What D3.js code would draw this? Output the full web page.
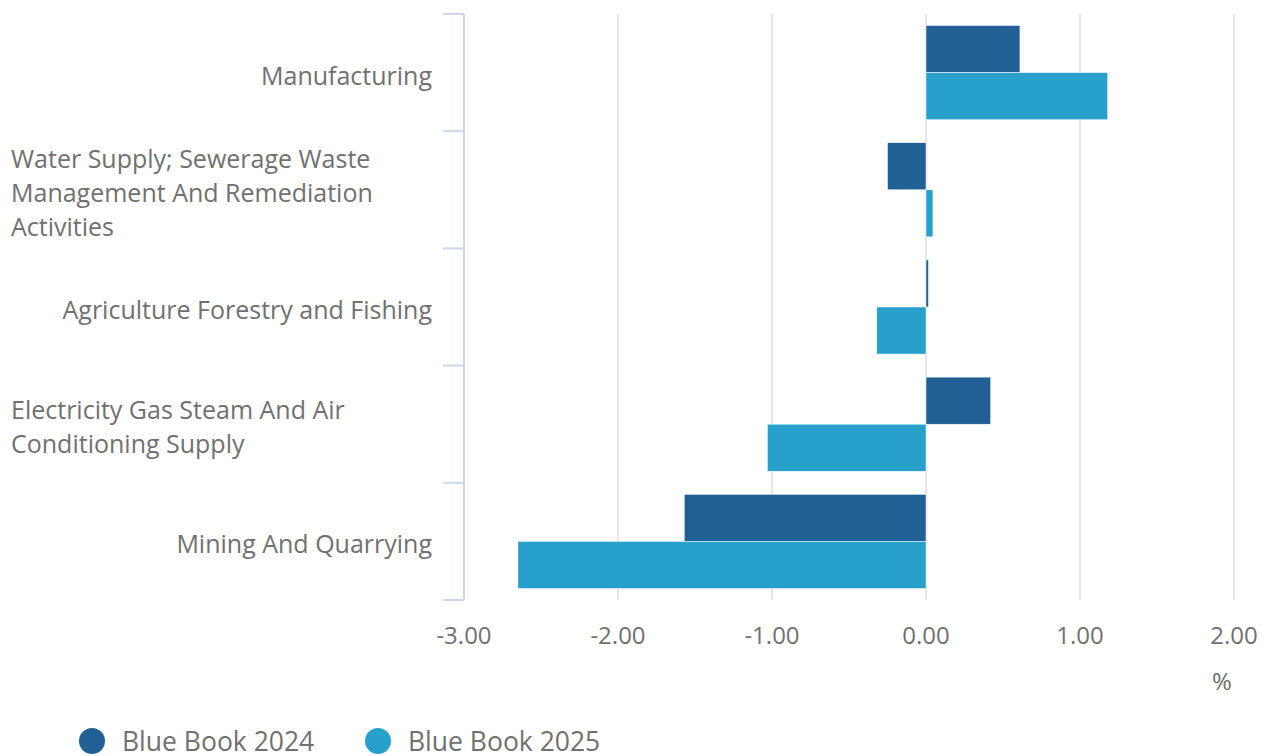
<!DOCTYPE html>
<html><head><meta charset="utf-8">
<script src="https://cdn.jsdelivr.net/npm/d3@7"></script>
<style>body{margin:0;background:#fff;}svg{display:block;font-family:"Open Sans",sans-serif;}</style>
</head><body>
<svg id="c" width="1266" height="756"></svg>
<script>
const categories = ["Manufacturing","Water Supply; Sewerage Waste Management And Remediation Activities","Agriculture Forestry and Fishing","Electricity Gas Steam And Air Conditioning Supply","Mining And Quarrying"];
const labelLines = [["Manufacturing"],["Water Supply; Sewerage Waste","Management And Remediation","Activities"],["Agriculture Forestry and Fishing"],["Electricity Gas Steam And Air","Conditioning Supply"],["Mining And Quarrying"]];
const seriesNames = ["Blue Book 2024","Blue Book 2025"];
const bb2024 = [0.61,-0.25,0.016,0.42,-1.57];
const bb2025 = [1.18,0.045,-0.32,-1.03,-2.65];
const xTicks = [-3,-2,-1,0,1,2];
const colors = ["#206095","#27a0cc"];

const svg = d3.select("#c");
const x = d3.scaleLinear().domain([-3,2]).range([464,1234]);
const y = d3.scaleBand().domain(categories).range([14,600]).paddingInner(0).paddingOuter(0);
const inner = d3.scaleBand().domain([0,1]).range([0,y.bandwidth()]).paddingOuter(0.245).paddingInner(0).align(0.5);
const textCol = "#707070";

// grid
svg.append("g").selectAll("line").data(xTicks).join("line")
  .attr("x1",d=>x(d)).attr("x2",d=>x(d)).attr("y1",14).attr("y2",600)
  .attr("stroke","#e6e6e6").attr("stroke-width",2);

// x labels
svg.append("g").selectAll("text").data(xTicks).join("text")
  .attr("x",d=>x(d)).attr("y",644).attr("text-anchor","middle")
  .attr("font-size",24).attr("fill",textCol).text(d=>d.toFixed(2));
svg.append("text").attr("x",1222).attr("y",690).attr("text-anchor","middle")
  .attr("font-size",24).attr("fill",textCol).text("%");

// bars
const series = [bb2024,bb2025];
series.forEach((vals,si)=>{
  svg.append("g").selectAll("rect").data(vals).join("rect")
    .attr("x",d=>Math.min(x(0),x(d)))
    .attr("width",d=>Math.abs(x(d)-x(0)))
    .attr("y",(d,i)=>y(categories[i])+inner(si))
    .attr("height",inner.bandwidth())
    .attr("fill",colors[si]).attr("stroke","#fff").attr("stroke-width",0.5);
});

// y axis line and ticks
const yAxisG = svg.append("g");
yAxisG.append("line").attr("x1",464).attr("x2",464).attr("y1",14).attr("y2",600)
  .attr("stroke","#ccd6eb").attr("stroke-width",2);
const bounds = categories.map(c=>y(c)).concat([600]);
yAxisG.selectAll("line.t").data(bounds).join("line").attr("class","t")
  .attr("x1",443).attr("x2",464).attr("y1",d=>d).attr("y2",d=>d)
  .attr("stroke","#ccd6eb").attr("stroke-width",2);

// y labels
categories.forEach((c,i)=>{
  const lines = labelLines[i];
  const cy = y(c)+y.bandwidth()/2;
  const lh = 34;
  const t = svg.append("text").attr("font-size",25).attr("fill",textCol)
    .attr("text-anchor",lines.length>1?"start":"end");
  const x0 = lines.length>1?11:432;
  lines.forEach((ln,j)=>{
    t.append("tspan").attr("x",x0).attr("y",cy+12+(j-(lines.length-1)/2)*lh).text(ln);
  });
});

// legend
const legX = [92,378];
seriesNames.forEach((n,i)=>{
  svg.append("circle").attr("cx",legX[i]).attr("cy",741).attr("r",13).attr("fill",colors[i]);
  svg.append("text").attr("x",legX[i]+30).attr("y",751).attr("font-size",26.5).attr("fill",textCol).text(n);
});
</script>
</body></html>
